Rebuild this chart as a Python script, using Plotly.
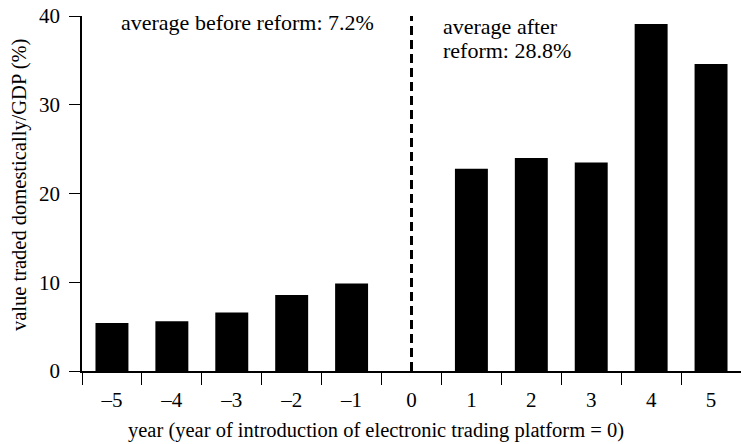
import plotly.graph_objects as go

# Years relative to the introduction of the electronic trading platform
years = [-5, -4, -3, -2, -1, 0, 1, 2, 3, 4, 5]
year_labels = ["–5", "–4", "–3", "–2", "–1", "0", "1", "2", "3", "4", "5"]
# Value traded domestically as a share of GDP (%); no bar at year 0
value_traded = [5.4, 5.6, 6.6, 8.55, 9.85, None, 22.8, 24.0, 23.5, 39.1, 34.6]

avg_before = 7.2
avg_after = 28.8

FONT = "'Liberation Serif', 'Times New Roman', Times, serif"
fs_tick = 21
fs_title = 20.5
fs_note = 22

fig = go.Figure()
fig.add_trace(go.Bar(
    x=years, y=value_traded, width=0.55,
    marker=dict(color="black", line=dict(width=0)),
    hoverinfo="x+y",
))

# Reform marker at year 0
fig.add_shape(type="line", xref="x", yref="y", x0=0, x1=0, y0=0, y1=40,
              line=dict(color="black", width=3, dash="9px,5px"))

note_font = dict(family=FONT, size=fs_note, color="black")
fig.add_annotation(x=-4.89, y=39.3, xref="x", yref="y", xanchor="left", yanchor="middle",
                   text=f"average before reform: {avg_before}%", showarrow=False,
                   font=note_font)
fig.add_annotation(x=0.49, y=38.8, xref="x", yref="y", xanchor="left", yanchor="middle",
                   text="average after", showarrow=False, font=note_font)
fig.add_annotation(x=0.49, y=36.1, xref="x", yref="y", xanchor="left", yanchor="middle",
                   text=f"reform: {avg_after}%", showarrow=False, font=note_font)

# Axis titles
title_font = dict(family=FONT, size=fs_title, color="black")
fig.add_annotation(x=0.446, y=-0.167, xref="paper", yref="paper",
                   xanchor="center", yanchor="middle", showarrow=False,
                   text="year (year of introduction of electronic trading platform = 0)",
                   font=title_font)
fig.add_annotation(x=-0.095, y=0.525, xref="paper", yref="paper",
                   xanchor="center", yanchor="middle", showarrow=False, textangle=-90,
                   text="value traded domestically/GDP (%)", font=title_font)

fig.update_layout(
    width=741, height=444,
    margin=dict(l=82, r=0, t=16, b=73, pad=0),
    paper_bgcolor="white", plot_bgcolor="white",
    showlegend=False,
    font=dict(family=FONT, size=fs_tick, color="black"),
    xaxis=dict(
        range=[-5.5, 5.5], tickmode="array", tickvals=years, ticktext=year_labels,
        ticks="", ticklabelstandoff=9, showgrid=False, zeroline=False,
        showline=True, linecolor="black", linewidth=1.5,
        minor=dict(tickmode="array", tickvals=[y - 0.5 for y in years] + [5.5],
                   ticks="outside", ticklen=12, tickwidth=1.2, tickcolor="black",
                   showgrid=False),
        tickfont=dict(family=FONT, size=fs_tick),
    ),
    yaxis=dict(
        range=[0, 40], tickmode="array", tickvals=[0, 10, 20, 30, 40],
        ticks="outside", ticklen=11, tickwidth=1.2, tickcolor="black",
        ticklabelstandoff=5,
        showgrid=False, zeroline=False,
        showline=True, linecolor="black", linewidth=1.5,
        tickfont=dict(family=FONT, size=fs_tick),
    ),
)

fig.write_html("out.html")
